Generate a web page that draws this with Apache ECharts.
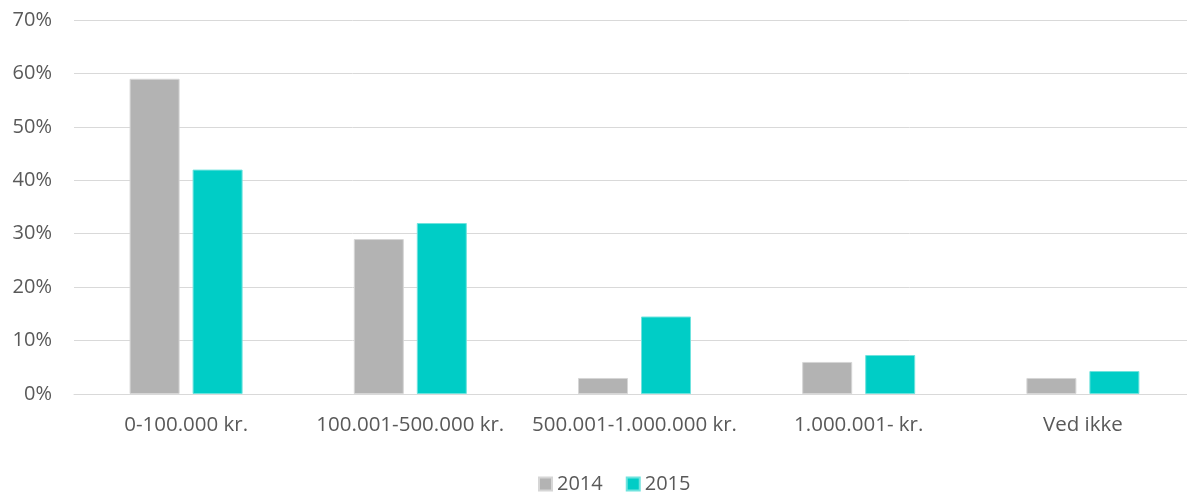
<!DOCTYPE html>
<html>
<head>
<meta charset="utf-8">
<script src="https://cdn.jsdelivr.net/npm/echarts@6/dist/echarts.min.js"></script>
<style>
  html, body { margin: 0; padding: 0; background: #fff; }
  #chart { width: 1187px; height: 494px; }
</style>
</head>
<body>
<div id="chart"></div>
<script>
const categories = ['0-100.000 kr.', '100.001-500.000 kr.', '500.001-1.000.000 kr.', '1.000.001- kr.', 'Ved ikke'];
const values2014 = [59, 29, 3, 6, 3];
const values2015 = [42, 32, 14.5, 7.3, 4.3];
const yTicks = [0, 10, 20, 30, 40, 50, 60, 70];

const font = '"Open Sans", sans-serif';
const chart = echarts.init(document.getElementById('chart'));

chart.setOption({
  animation: false,
  textStyle: { fontFamily: font },
  grid: { left: 74, width: 1121, top: 20, bottom: 100, containLabel: false, outerBoundsMode: 'none' },
  legend: {
    top: 469,
    left: 533,
    itemWidth: 13,
    itemHeight: 13,
    itemGap: 23,
    icon: 'rect',
    textStyle: { fontSize: 20, color: '#595959', fontFamily: font },
    data: ['2014', '2015']
  },
  xAxis: {
    type: 'category',
    data: categories,
    axisLine: { lineStyle: { color: '#d9d9d9', width: 1 } },
    axisTick: { show: false },
    axisLabel: { interval: 0, fontSize: 20.5, color: '#595959', margin: 21, fontFamily: font }
  },
  yAxis: {
    type: 'value',
    min: yTicks[0],
    max: yTicks[yTicks.length - 1],
    interval: 10,
    axisLine: { show: false },
    axisTick: { show: false },
    splitLine: { lineStyle: { color: '#d9d9d9', width: 1 } },
    axisLabel: { fontSize: 20, color: '#595959', margin: 22, formatter: v => v + '%', fontFamily: font }
  },
  series: [
    {
      name: '2014',
      type: 'bar',
      data: values2014,
      barWidth: 50,
      barGap: '26%',
      itemStyle: { color: '#b3b3b3', borderColor: '#d6d6d6', borderWidth: 1 }
    },
    {
      name: '2015',
      type: 'bar',
      data: values2015,
      barWidth: 50,
      itemStyle: { color: '#00cdc6', borderColor: '#6fe3de', borderWidth: 1 }
    }
  ]
});
</script>
</body>
</html>
